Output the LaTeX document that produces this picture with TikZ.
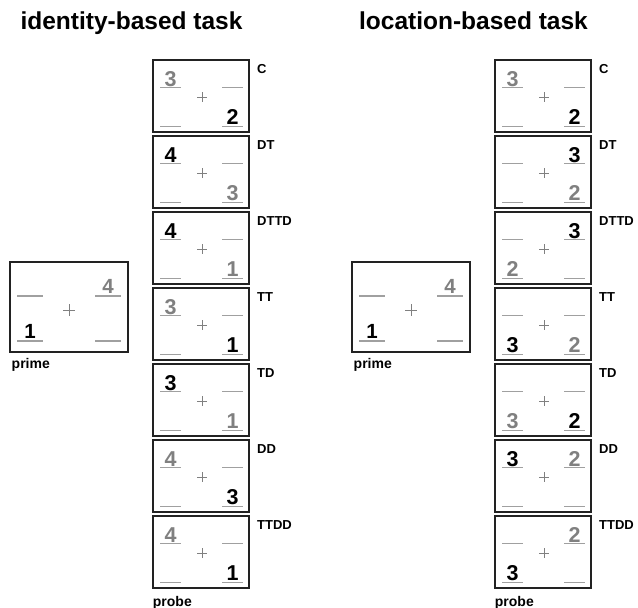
\documentclass[tikz,border=0pt]{standalone}
\usepackage{fontspec}
\setmainfont{Liberation Sans}
\usetikzlibrary{calc}
\definecolor{dgray}{HTML}{808080}
\definecolor{lgray}{HTML}{A0A0A0}
\definecolor{framec}{HTML}{222222}
\tikzset{
  pbx/.style={draw=framec, line width=1.5pt, minimum width=96pt, minimum height=72pt, inner sep=0pt, outer sep=0pt},
  primebx/.style={pbx, minimum width=118pt, minimum height=90pt},
  uline/.style={draw=lgray, line width=1.1pt},
  plusmark/.style={draw=dgray, line width=0.8pt},
  dig/.style={font=\fontsize{21.5}{21.5}\bfseries\selectfont, anchor=base, inner sep=0pt},
  pdig/.style={dig, font=\fontsize{20.5}{20.5}\bfseries\selectfont},
  cond/.style={font=\fontsize{13}{13}\bfseries\selectfont, anchor=base west, inner sep=0pt},
  caplab/.style={font=\fontsize{14}{14}\bfseries\selectfont, anchor=base west, inner sep=0pt},
  ttl/.style={font=\fontsize{24.5}{24.5}\bfseries\selectfont, anchor=base, inner sep=0pt},
  gr/.style={text=dgray}, bk/.style={text=black}
}
% probe box: name, center x, center y, label
\newcommand\mkprobe[4]{%
  \node[pbx] (#1) at (#2,#3) {};
  \draw[uline] ($(#1.north west)+(7,27.3)$) -- ++(21,0);
  \draw[uline] ($(#1.north west)+(69,27.3)$) -- ++(21,0);
  \draw[uline] ($(#1.north west)+(7,66.3)$) -- ++(21,0);
  \draw[uline] ($(#1.north west)+(69,66.3)$) -- ++(21,0);
  \draw[plusmark] ($(#1.north west)+(44,37.3)$) -- ++(10,0);
  \draw[plusmark] ($(#1.north west)+(49,32.3)$) -- ++(0,10);
  \coordinate (#1-tl) at ($(#1.north west)+(17.5,26)$);
  \coordinate (#1-tr) at ($(#1.north west)+(79.5,26)$);
  \coordinate (#1-bl) at ($(#1.north west)+(17.5,64.3)$);
  \coordinate (#1-br) at ($(#1.north west)+(79.5,64.3)$);
  \node[cond] (#1-lab) at ($(#1.north east)+(8,13.3)$) {#4};
}
% prime box: name, center x, center y
\newcommand\mkprime[3]{%
  \node[primebx] (#1) at (#2,#3) {};
  \draw[uline] ($(#1.north west)+(7,34)$) -- ++(26,0);
  \draw[uline] ($(#1.north west)+(85,34)$) -- ++(26,0);
  \draw[uline] ($(#1.north west)+(7,79)$) -- ++(26,0);
  \draw[uline] ($(#1.north west)+(85,79)$) -- ++(26,0);
  \draw[plusmark] ($(#1.north west)+(53,48)$) -- ++(12,0);
  \draw[plusmark] ($(#1.north west)+(59,42)$) -- ++(0,12);
  \coordinate (#1-tl) at ($(#1.north west)+(20,31)$);
  \coordinate (#1-tr) at ($(#1.north west)+(98,31)$);
  \coordinate (#1-bl) at ($(#1.north west)+(20,76)$);
  \coordinate (#1-br) at ($(#1.north west)+(98,76)$);
}
\begin{document}
\begin{tikzpicture}[x=1pt,y=-1pt]
\useasboundingbox (0,0) rectangle (638,608);
% titles
\node[ttl] (t1) at (131.5,29.5) {identity-based task};
\node[ttl] (t2) at (473.5,29.5) {location-based task};
% ---------- identity-based ----------
\mkprime{P1}{69}{307}
\node[pdig,gr] (P1d1) at (P1-tr) {4};
\node[pdig,bk] (P1d2) at (P1-bl) {1};
\node[caplab] (P1lab) at (11.5,368) {prime};

\mkprobe{A1}{201}{96}{C}
\node[dig,gr] (A1a) at (A1-tl) {3};
\node[dig,bk] (A1b) at (A1-br) {2};
\mkprobe{A2}{201}{172}{DT}
\node[dig,bk] (A2a) at (A2-tl) {4};
\node[dig,gr] (A2b) at (A2-br) {3};
\mkprobe{A3}{201}{248}{DTTD}
\node[dig,bk] (A3a) at (A3-tl) {4};
\node[dig,gr] (A3b) at (A3-br) {1};
\mkprobe{A4}{201}{324}{TT}
\node[dig,gr] (A4a) at (A4-tl) {3};
\node[dig,bk] (A4b) at (A4-br) {1};
\mkprobe{A5}{201}{400}{TD}
\node[dig,bk] (A5a) at (A5-tl) {3};
\node[dig,gr] (A5b) at (A5-br) {1};
\mkprobe{A6}{201}{476}{DD}
\node[dig,gr] (A6a) at (A6-tl) {4};
\node[dig,bk] (A6b) at (A6-br) {3};
\mkprobe{A7}{201}{552}{TTDD}
\node[dig,gr] (A7a) at (A7-tl) {4};
\node[dig,bk] (A7b) at (A7-br) {1};
\node[caplab] (Alab) at (152.7,606) {probe};
% ---------- location-based ----------
\mkprime{P2}{411}{307}
\node[pdig,gr] (P2d1) at (P2-tr) {4};
\node[pdig,bk] (P2d2) at (P2-bl) {1};
\node[caplab] (P2lab) at (353.5,368) {prime};

\mkprobe{B1}{543}{96}{C}
\node[dig,gr] (B1a) at (B1-tl) {3};
\node[dig,bk] (B1b) at (B1-br) {2};
\mkprobe{B2}{543}{172}{DT}
\node[dig,bk] (B2a) at (B2-tr) {3};
\node[dig,gr] (B2b) at (B2-br) {2};
\mkprobe{B3}{543}{248}{DTTD}
\node[dig,bk] (B3a) at (B3-tr) {3};
\node[dig,gr] (B3b) at (B3-bl) {2};
\mkprobe{B4}{543}{324}{TT}
\node[dig,bk] (B4a) at (B4-bl) {3};
\node[dig,gr] (B4b) at (B4-br) {2};
\mkprobe{B5}{543}{400}{TD}
\node[dig,gr] (B5a) at (B5-bl) {3};
\node[dig,bk] (B5b) at (B5-br) {2};
\mkprobe{B6}{543}{476}{DD}
\node[dig,bk] (B6a) at (B6-tl) {3};
\node[dig,gr] (B6b) at (B6-tr) {2};
\mkprobe{B7}{543}{552}{TTDD}
\node[dig,gr] (B7a) at (B7-tr) {2};
\node[dig,bk] (B7b) at (B7-bl) {3};
\node[caplab] (Blab) at (494.7,606) {probe};
\end{tikzpicture}
\end{document}
